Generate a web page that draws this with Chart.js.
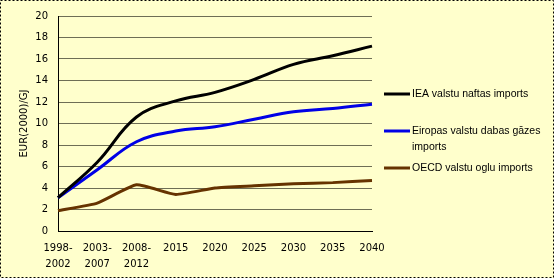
<!DOCTYPE html>
<html>
<head>
<meta charset="utf-8">
<script src="https://cdn.jsdelivr.net/npm/chart.js@4"></script>
<style>
  body { margin: 0; }
  #wrap { position: relative; width: 554px; height: 278px; }
</style>
</head>
<body>
<div id="wrap"><canvas id="myChart" width="554" height="278"></canvas></div>
<script>
// categories (x axis)
const periodi = [['1998-', '2002'], ['2003-', '2007'], ['2008-', '2012'], '2015', '2020', '2025', '2030', '2035', '2040'];

// series values, EUR(2000)/GJ
const naftaIEA = [3.1, 6.4, 10.6, 12.1, 12.9, 14.1, 15.5, 16.3, 17.2];
const gazeEiropa = [3.1, 5.7, 8.3, 9.3, 9.7, 10.4, 11.1, 11.4, 11.8];
const oglesOECD = [1.9, 2.6, 4.3, 3.4, 4.0, 4.2, 4.4, 4.5, 4.7];

// legend labels
const nosaukumi = [['IEA valstu naftas imports'], ['Eiropas valstu dabas gāzes', 'imports'], ['OECD valstu oglu imports']];
const krasas = ['#000000', '#0000E6', '#663300'];

// fons un rāmis
const fonsPlugin = {
    id: 'fons',
    beforeDraw(chart) {
        const c = chart.ctx;
        c.save();
        c.fillStyle = '#FFFFCC';
        c.fillRect(0, 0, chart.width, chart.height);
        c.strokeStyle = '#000';
        c.lineWidth = 1;
        c.setLineDash([2, 2]);
        c.strokeRect(0.5, 0.5, chart.width - 1, chart.height - 1);
        c.restore();
    }
};

// leģenda labajā pusē
const legendaPlugin = {
    id: 'legenda',
    afterDraw(chart) {
        const c = chart.ctx;
        const rindas = [94, 131, 168];
        c.save();
        c.font = '10.5px "Liberation Sans"';
        c.textBaseline = 'middle';
        chart.data.datasets.forEach(function (ds, i) {
            const y = rindas[i];
            c.strokeStyle = ds.borderColor;
            c.lineWidth = 3;
            c.beginPath();
            c.moveTo(384, y);
            c.lineTo(410, y);
            c.stroke();
            c.fillStyle = '#000';
            nosaukumi[i].forEach(function (t, j) {
                c.fillText(t, 412, y + j * 16);
            });
        });
        c.restore();
    }
};

const ctx = document.getElementById('myChart').getContext('2d');
new Chart(ctx, {
    type: 'line',
    data: {
        labels: periodi,
        datasets: [{
            label: 'IEA valstu naftas imports',
            data: naftaIEA,
            borderColor: krasas[0],
            borderWidth: 3,
            pointRadius: 0,
            tension: 0.4
        }, {
            label: 'Eiropas valstu dabas gāzes imports',
            data: gazeEiropa,
            borderColor: krasas[1],
            borderWidth: 3,
            pointRadius: 0,
            tension: 0.4
        }, {
            label: 'OECD valstu oglu imports',
            data: oglesOECD,
            borderColor: krasas[2],
            borderWidth: 3,
            pointRadius: 0,
            tension: 0.15
        }]
    },
    options: {
        responsive: false,
        animation: false,
        layout: { padding: { left: 0, right: 182, top: 15, bottom: 0 } },
        plugins: {
            legend: { display: false },
            tooltip: { enabled: false }
        },
        scales: {
            x: {
                offset: false,
                grid: { display: false, drawTicks: false },
                border: { color: '#000', width: 1 },
                ticks: {
                    color: '#000',
                    font: { family: 'DejaVu Sans', size: 10, lineHeight: 1.55 },
                    maxRotation: 0,
                    autoSkip: false,
                    padding: 10
                },
                afterFit(scale) { scale.height = 47; }
            },
            y: {
                min: 0,
                max: 20,
                ticks: {
                    stepSize: 2,
                    color: '#000',
                    font: { family: 'DejaVu Sans', size: 10 },
                    padding: 10
                },
                grid: { color: '#6e6e55', drawTicks: false },
                border: { color: '#000', width: 1 },
                title: {
                    display: true,
                    text: 'EUR(2000)/GJ',
                    color: '#000',
                    font: { family: 'DejaVu Sans', size: 10 },
                    padding: { top: 18, bottom: 0 }
                },
                afterFit(scale) { scale.width = 58; }
            }
        }
    },
    plugins: [fonsPlugin, legendaPlugin]
});
</script>
</body>
</html>
